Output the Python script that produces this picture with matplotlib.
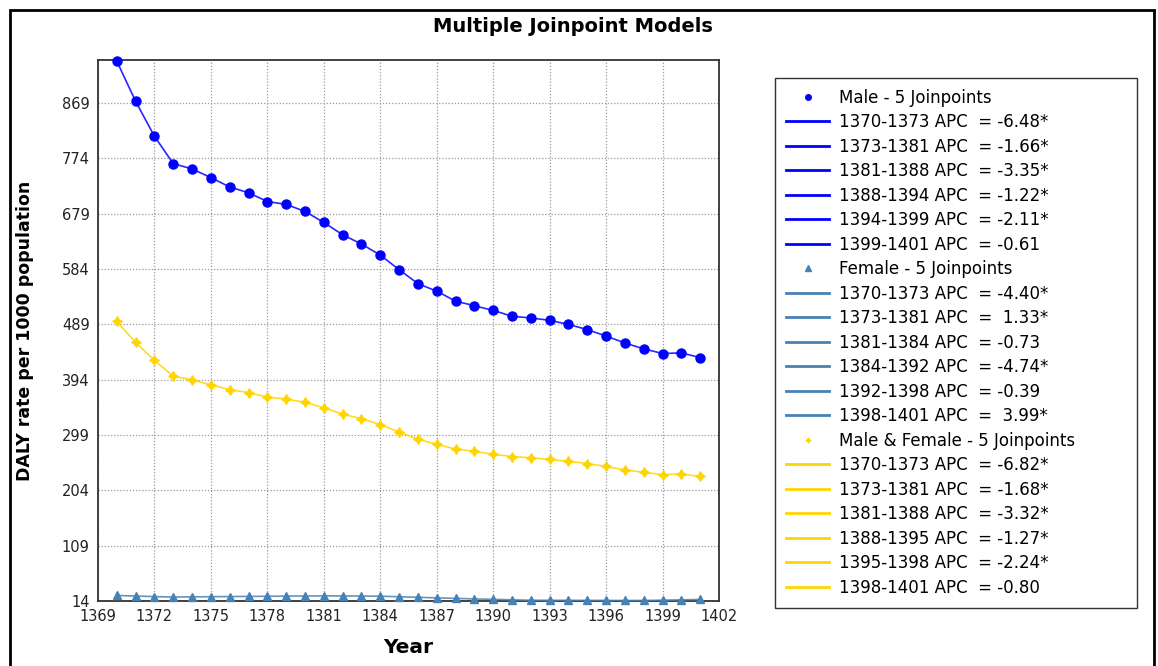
import matplotlib
matplotlib.use("Agg")
import matplotlib.pyplot as plt
from matplotlib.lines import Line2D
from matplotlib.patches import Rectangle

plt.rcParams['font.family'] = ['DejaVu Sans']

years = list(range(1370, 1402))

male = [941, 872, 812, 765, 756, 741, 725, 715, 700, 695, 683, 664,
        643, 627, 608, 583, 559, 546, 529, 521, 513, 503, 500, 496,
        489, 480, 469, 457, 447, 439, 440, 432]
female = [23.5, 22.5, 21.6, 20.8, 21.1, 21.4, 21.6, 21.9, 22.1, 22.4, 22.6, 22.8,
          22.7, 22.5, 22.3, 21.3, 20.3, 19.4, 18.5, 17.6, 16.8, 16.0, 15.3, 15.2,
          15.2, 15.1, 15.0, 14.9, 14.9, 15.4, 16.0, 16.7]
both = [494, 458, 427, 400, 394, 385, 377, 372, 364, 361, 355, 346,
        335, 327, 317, 304, 292, 283, 275, 271, 266, 262, 260, 257,
        254, 250, 245, 239, 235, 231, 232, 228]

male_segs = [(1370, 1373, "-6.48*"), (1373, 1381, "-1.66*"), (1381, 1388, "-3.35*"),
             (1388, 1394, "-1.22*"), (1394, 1399, "-2.11*"), (1399, 1401, "-0.61")]
female_segs = [(1370, 1373, "-4.40*"), (1373, 1381, " 1.33*"), (1381, 1384, "-0.73"),
               (1384, 1392, "-4.74*"), (1392, 1398, "-0.39"), (1398, 1401, " 3.99*")]
both_segs = [(1370, 1373, "-6.82*"), (1373, 1381, "-1.68*"), (1381, 1388, "-3.32*"),
             (1388, 1395, "-1.27*"), (1395, 1398, "-2.24*"), (1398, 1401, "-0.80")]

yticks = [14, 109, 204, 299, 394, 489, 584, 679, 774, 869]
xticks = list(range(1369, 1403, 3))

series = [
    ("Male - 5 Joinpoints", male, male_segs, "#0000ff", "o", 6.5, 4),
    ("Female - 5 Joinpoints", female, female_segs, "#4682b4", "^", 6, 4),
    ("Male & Female - 5 Joinpoints", both, both_segs, "#ffd500", (4, 1, 0), 7, 3.5),
]

fig = plt.figure(figsize=(11.58, 6.66), dpi=100)
fig.patches.append(Rectangle((10 / 1158, -0.01), 1144 / 1158, 1 - 10 / 666 + 0.01,
                             transform=fig.transFigure, fill=False,
                             edgecolor="black", linewidth=2))
ax = fig.add_axes([98 / 1158, 1 - 601 / 666, 621 / 1158, 541 / 666])

handles = []
for name, vals, segs, color, mk, ms, lms in series:
    ax.plot(years, vals, linestyle="none", marker=mk, markersize=ms,
            color=color, clip_on=False, zorder=4)
    handles.append(Line2D([], [], linestyle="none", marker=mk, markersize=lms,
                          color=color, label=name))
    for a, b, apc in segs:
        i, j = years.index(a), years.index(b)
        ax.plot(years[i:j + 1], vals[i:j + 1], color=color, linewidth=1.2,
                alpha=0.85, clip_on=False, zorder=3)
        handles.append(Line2D([], [], color=color, linewidth=2,
                              label=f"{a}-{b} APC  = {apc}"))

ax.set_xlim(1369, 1402)
ax.set_ylim(14, 943)
ax.set_xticks(xticks)
ax.set_yticks(yticks)
ax.tick_params(length=0, labelsize=10.5, pad=6, colors="#222222")
ax.grid(True, linestyle=(0, (1, 1.5)), color="#999999", linewidth=0.9)
for s in ax.spines.values():
    s.set_color("#333333")
    s.set_linewidth(1.3)

ax.set_xlabel("Year", fontsize=14.5, fontweight="bold", labelpad=10)
ax.set_ylabel("DALY rate per 1000 population", fontsize=12.5, fontweight="bold",
              labelpad=20)
fig.text(573 / 1158, 1 - 26 / 666, "Multiple Joinpoint Models", ha="center",
         va="center", fontsize=14, fontweight="bold")

leg = fig.legend(handles=handles, loc="upper left",
                 bbox_to_anchor=(775 / 1158, 1 - 78 / 666, 362 / 1158, 0),
                 mode="expand", fontsize=12, frameon=True, fancybox=False,
                 edgecolor="black", handlelength=2.6, labelspacing=0.39,
                 borderpad=0.65, borderaxespad=0, handletextpad=0.6)
leg.get_frame().set_linewidth(1.0)

fig.savefig("out.png", dpi=100)
